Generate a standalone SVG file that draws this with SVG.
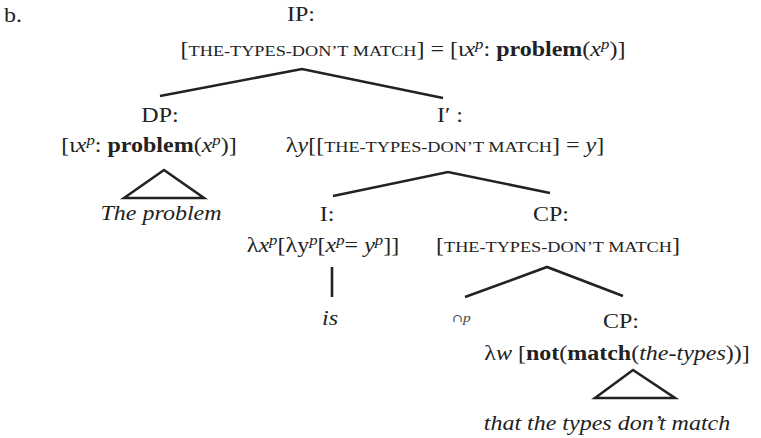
<svg xmlns="http://www.w3.org/2000/svg" width="761" height="438" viewBox="0 0 761 438">
<style>
text{font-family:"Liberation Serif","Times New Roman",serif;font-size:20px;fill:#222;text-anchor:middle}
.s{text-anchor:start}
.i{font-style:italic}
.b{font-weight:bold}
.sc{font-size:15.2px}
.sup{font-size:14px;font-style:italic}
.e{fill:none;stroke:#222;stroke-width:2.6;stroke-linejoin:miter}
</style>
<rect width="761" height="438" fill="#fff"/>
<text class="s" transform="translate(4,22) scale(1.2,1)">b.</text>
<g id="connectors">
<path class="e" d="M160,96 L302,69 L443,98"/>
<path class="e" d="M333,196 L448,172 L550,193"/>
<path class="e" d="M332,267 L332,297"/>
<path class="e" d="M465,297 L547,267 L623,296"/>
<path class="e" d="M124,198 L164,170 L204,198 Z"/>
<path class="e" d="M595,398 L633,370 L675,398 Z"/>
</g>
<g id="node-IP">
<text transform="translate(301,21) scale(1.2,1)">IP:</text>
<text transform="translate(403,56) scale(1.2,1)">[<tspan class="sc">THE-TYPES-DON’T MATCH</tspan>] = [ι<tspan class="i">x</tspan><tspan class="sup" baseline-shift="7">p</tspan>: <tspan class="b">problem</tspan>(<tspan class="i">x</tspan><tspan class="sup" baseline-shift="7">p</tspan>)]</text>
</g>
<g id="node-DP">
<text transform="translate(160,122) scale(1.2,1)">DP:</text>
<text transform="translate(149,152) scale(1.2,1)">[ι<tspan class="i">x</tspan><tspan class="sup" baseline-shift="7">p</tspan>: <tspan class="b">problem</tspan>(<tspan class="i">x</tspan><tspan class="sup" baseline-shift="7">p</tspan>)]</text>
</g>
<g id="node-the-problem">
<text class="i" transform="translate(161,220) scale(1.2,1)">The problem</text>
</g>
<g id="node-Ibar">
<text transform="translate(450,122) scale(1.2,1)">I′ :</text>
<text transform="translate(445,152) scale(1.2,1)">λ<tspan class="i">y</tspan>[[<tspan class="sc">THE-TYPES-DON’T MATCH</tspan>] = <tspan class="i">y</tspan>]</text>
</g>
<g id="node-I">
<text transform="translate(327,221) scale(1.2,1)">I:</text>
<text transform="translate(323,252) scale(1.2,1)">λ<tspan class="i">x</tspan><tspan class="sup" baseline-shift="7">p</tspan>[λy<tspan class="sup" baseline-shift="7">p</tspan>[<tspan class="i">x</tspan><tspan class="sup" baseline-shift="7">p</tspan>= <tspan class="i">y</tspan><tspan class="sup" baseline-shift="7">p</tspan>]]</text>
</g>
<g id="node-is">
<text class="i" transform="translate(330,325) scale(1.2,1)">is</text>
</g>
<g id="node-CP1">
<text transform="translate(551,221) scale(1.2,1)">CP:</text>
<text transform="translate(558,252) scale(1.2,1)">[<tspan class="sc">THE-TYPES-DON’T MATCH</tspan>]</text>
</g>
<g id="node-cap-p">
<text class="s" transform="translate(452,322) scale(1.2,1)" style="font-size:13px;fill:#444"><tspan style="font-family:'DejaVu Serif',serif;font-size:11px">∩</tspan><tspan class="i">p</tspan></text>
</g>
<g id="node-CP2">
<text transform="translate(621,328) scale(1.2,1)">CP:</text>
<text transform="translate(617,360) scale(1.2,1)">λ<tspan class="i">w</tspan> [<tspan class="b">not</tspan>(<tspan class="b">match</tspan>(<tspan class="i">the-types</tspan>))]</text>
</g>
<g id="node-that">
<text class="i" transform="translate(607,430) scale(1.2,1)">that the types don’t match</text>
</g>
</svg>
